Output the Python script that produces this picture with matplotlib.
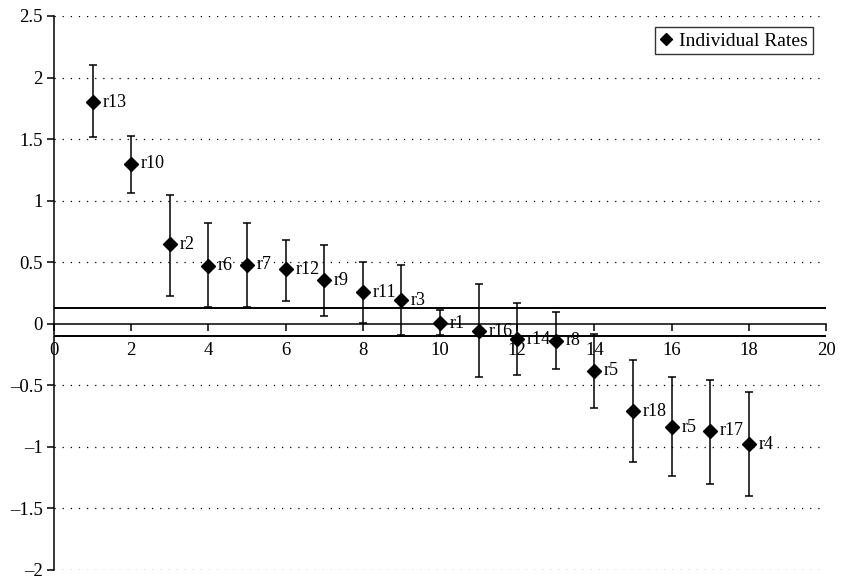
import matplotlib.pyplot as plt
import numpy as np

plt.rcParams['font.family'] = ['Liberation Serif', 'DejaVu Serif']

# data
x = np.arange(1, 19)
labels = ['r13', 'r10', 'r2', 'r6', 'r7', 'r12', 'r9', 'r11', 'r3',
          'r1', 'r16', 'r14', 'r8', 'r5', 'r18', 'r5', 'r17', 'r4']
rates = [1.80, 1.30, 0.645, 0.472, 0.48, 0.444, 0.352, 0.258, 0.19,
         0.005, -0.062, -0.125, -0.138, -0.38, -0.71, -0.84, -0.87, -0.98]
upper = [2.10, 1.526, 1.043, 0.816, 0.816, 0.683, 0.642, 0.504, 0.477,
         0.108, 0.323, 0.165, 0.095, -0.085, -0.298, -0.436, -0.458, -0.555]
lower = [1.515, 1.065, 0.222, 0.133, 0.133, 0.187, 0.065, 0.01, -0.092,
         -0.092, -0.436, -0.42, -0.366, -0.686, -1.119, -1.236, -1.298, -1.398]
ref_lines = [0.132, -0.098]

xticks = list(range(0, 21, 2))
yticks = [-2, -1.5, -1, -0.5, 0, 0.5, 1, 1.5, 2, 2.5]
ytick_labels = ['\u20132', '\u20131.5', '\u20131', '\u20130.5', '0',
                '0.5', '1', '1.5', '2', '2.5']

fig = plt.figure(figsize=(8.42, 5.78), dpi=100)
ax = fig.add_axes([54 / 842, 8 / 578, 772 / 842, 554 / 578])

rates_a = np.array(rates)
yerr = [rates_a - np.array(lower), np.array(upper) - rates_a]

for y in yticks:
    if y != 0:
        ax.axhline(y, color='black', lw=0.9, ls=(0, (1, 5.5)), zorder=0)

for y in ref_lines:
    ax.axhline(y, color='black', lw=1.4, zorder=1)

ax.errorbar(x, rates, yerr=yerr, fmt='none', ecolor='black', elinewidth=1.1,
            capsize=2.9, capthick=1.1, zorder=2)
ax.plot(x, rates, ls='none', marker='D', ms=7.5, color='black',
        label='Individual Rates', zorder=3)

for xi, yi, lab in zip(x, rates, labels):
    ax.annotate(lab, (xi, yi), xytext=(7, 0), textcoords='offset points',
                va='center', ha='left', fontsize=13)

ax.set_xlim(0, 20)
ax.set_ylim(-2, 2.5)
ax.set_xticks(xticks)
ax.set_yticks(yticks)
ax.set_yticklabels(ytick_labels)

ax.spines['top'].set_visible(False)
ax.spines['right'].set_visible(False)
ax.spines['bottom'].set_position(('data', 0))
ax.spines['left'].set_linewidth(1.1)
ax.spines['bottom'].set_linewidth(1.1)
ax.tick_params(axis='both', direction='out', length=5, width=1.1,
               labelsize=13.5)
ax.tick_params(axis='x', pad=8)
ax.tick_params(axis='y', pad=3)

leg = ax.legend(loc='upper right', bbox_to_anchor=(0.983, 0.98),
                fontsize=14, frameon=True, fancybox=False, handlelength=0.6,
                handletextpad=0.4, borderpad=0.25, borderaxespad=0,
                markerscale=0.8)
leg.get_frame().set_edgecolor('black')
leg.get_frame().set_linewidth(1.0)

fig.savefig('out.png', dpi=100)
